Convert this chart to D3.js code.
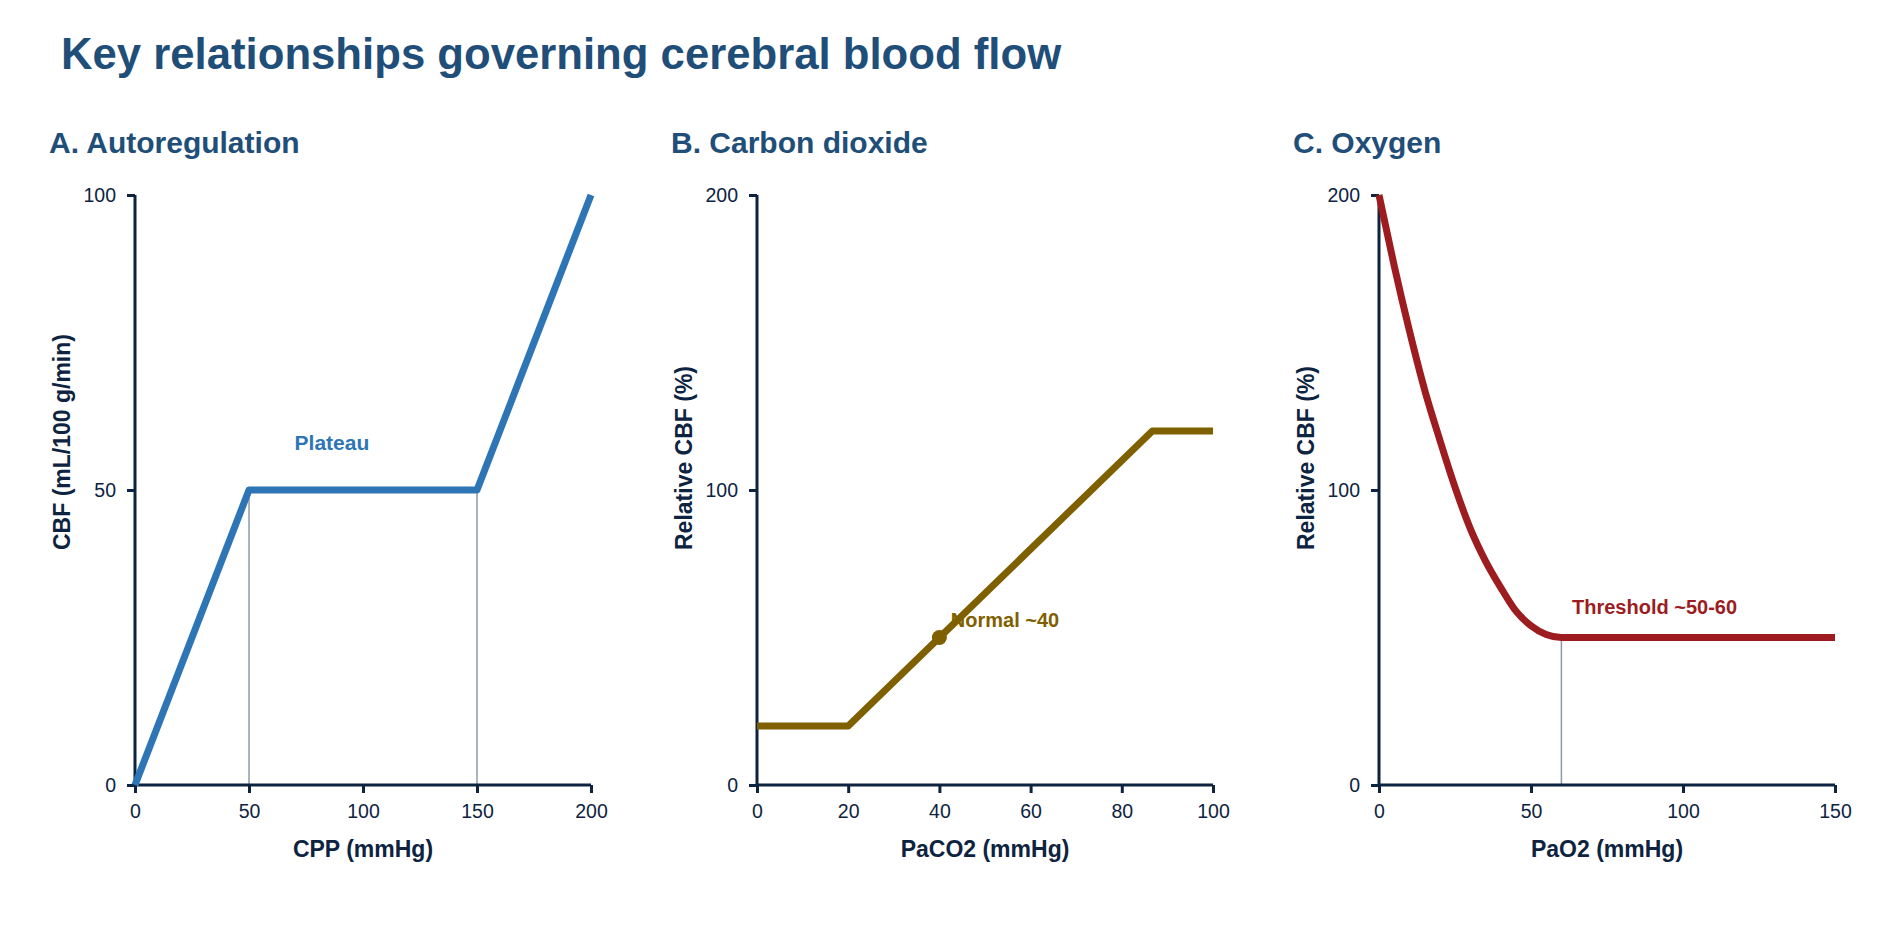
<!DOCTYPE html>
<html>
<head>
<meta charset="utf-8">
<script src="https://cdn.jsdelivr.net/npm/d3@7"></script>
<style>
  html, body { margin: 0; padding: 0; background: #ffffff; }
  svg { display: block; font-family: "Liberation Sans", Arial, sans-serif; }
</style>
</head>
<body>
<svg id="chart" width="1900" height="930"></svg>
<script>
// chart values
const autoregCpp = [0, 50, 150, 200];
const autoregCbf = [0, 50, 50, 100];
const autoregRefX = [50, 150];

const co2Paco2 = [0, 20, 86.7, 100];
const co2Cbf = [20, 20, 120, 120];
const co2Normal = [40, 50];

const o2Pao2 = [0, 5, 10, 15, 20, 25, 30, 35, 40, 45, 50, 55, 60, 150];
const o2Cbf = [200, 176, 154, 134, 117, 101, 87, 76, 67, 59, 54, 51, 50, 50];
const o2RefX = [60];

const ticksAx = [0, 50, 100, 150, 200];
const ticksAy = [0, 50, 100];
const ticksBx = [0, 20, 40, 60, 80, 100];
const ticksBy = [0, 100, 200];
const ticksCx = [0, 50, 100, 150];
const ticksCy = [0, 100, 200];

const titleColor = '#1f4e79';
const axisColor = '#0d2340';
const refColor = '#8e9aab';

const svg = d3.select('#chart');

svg.append('text')
    .attr('x', 61)
    .attr('y', 69)
    .attr('font-size', 43.7)
    .attr('font-weight', 'bold')
    .attr('fill', titleColor)
    .text('Key relationships governing cerebral blood flow');

// shared panel geometry
const plotTop = 195, plotBottom = 785, panelWidth = 456;

function drawPanel(opts) {
    const g = svg.append('g');
    const x = d3.scaleLinear().domain(opts.xDomain).range([opts.left, opts.left + panelWidth]);
    const y = d3.scaleLinear().domain(opts.yDomain).range([plotBottom, plotTop]);

    // subtitle
    g.append('text')
        .attr('x', opts.left - 86)
        .attr('y', 153)
        .attr('font-size', 30)
        .attr('font-weight', 'bold')
        .attr('fill', titleColor)
        .text(opts.title);

    // reference drop lines
    (opts.refs || []).forEach(r => {
        g.append('line')
            .attr('x1', x(r[0])).attr('x2', x(r[0]))
            .attr('y1', y(0)).attr('y2', y(r[1]))
            .attr('stroke', refColor)
            .attr('stroke-width', 1.5);
    });

    // annotation text (sits under the line, like the reference)
    g.append('text')
        .attr('x', x(opts.note[0]))
        .attr('y', y(opts.note[1]))
        .attr('font-size', opts.noteSize)
        .attr('font-weight', 'bold')
        .attr('fill', opts.color)
        .text(opts.note[2]);

    // axes
    const xAxis = g.append('g')
        .attr('transform', 'translate(0,' + plotBottom + ')')
        .call(d3.axisBottom(x).tickValues(opts.xTicks).tickFormat(d3.format('d')).tickSize(8).tickPadding(11));
    const yAxis = g.append('g')
        .attr('transform', 'translate(' + opts.left + ',0)')
        .call(d3.axisLeft(y).tickValues(opts.yTicks).tickFormat(d3.format('d')).tickSize(8).tickPadding(11));
    [xAxis, yAxis].forEach(a => {
        a.select('.domain').attr('stroke', axisColor).attr('stroke-width', 3);
        a.selectAll('.tick line').attr('stroke', axisColor).attr('stroke-width', 3);
        a.selectAll('.tick text')
            .attr('fill', axisColor)
            .attr('font-size', 19.5)
            .attr('font-family', '"Liberation Sans", Arial, sans-serif');
    });
    // drop the outer tick stubs d3 adds to the domain path
    xAxis.select('.domain').attr('d', 'M' + opts.left + ',0H' + (opts.left + panelWidth));
    yAxis.select('.domain').attr('d', 'M0,' + plotTop + 'V' + plotBottom);

    // axis titles
    g.append('text')
        .attr('x', opts.left + panelWidth / 2)
        .attr('y', 857)
        .attr('text-anchor', 'middle')
        .attr('font-size', 23)
        .attr('font-weight', 'bold')
        .attr('fill', axisColor)
        .text(opts.xLabel);
    g.append('text')
        .attr('transform', 'translate(' + (opts.left - 65) + ',550) rotate(-90)')
        .attr('text-anchor', 'start')
        .attr('font-size', 23)
        .attr('font-weight', 'bold')
        .attr('fill', axisColor)
        .text(opts.yLabel);

    // data line
    const line = d3.line()
        .x(d => x(d[0]))
        .y(d => y(d[1]))
        .curve(opts.curve || d3.curveLinear);
    g.append('path')
        .datum(d3.zip(opts.xs, opts.ys))
        .attr('fill', 'none')
        .attr('stroke', opts.color)
        .attr('stroke-width', 7)
        .attr('stroke-linejoin', 'round')
        .attr('d', line);

    if (opts.marker) {
        g.append('circle')
            .attr('cx', x(opts.marker[0]))
            .attr('cy', y(opts.marker[1]))
            .attr('r', 7.5)
            .attr('fill', opts.color);
    }
}

drawPanel({
    left: 135,
    title: 'A. Autoregulation',
    xDomain: [0, 200], yDomain: [0, 100],
    xTicks: ticksAx, yTicks: ticksAy,
    xs: autoregCpp, ys: autoregCbf,
    refs: autoregRefX.map(v => [v, 50]),
    color: '#2e75b6',
    note: [70, 56.7, 'Plateau'], noteSize: 21,
    xLabel: 'CPP (mmHg)',
    yLabel: 'CBF (mL/100 g/min)'
});

drawPanel({
    left: 757,
    title: 'B. Carbon dioxide',
    xDomain: [0, 100], yDomain: [0, 200],
    xTicks: ticksBx, yTicks: ticksBy,
    xs: co2Paco2, ys: co2Cbf,
    color: '#7f6000',
    marker: co2Normal,
    note: [42.5, 53.5, 'Normal ~40'], noteSize: 20,
    xLabel: 'PaCO2 (mmHg)',
    yLabel: 'Relative CBF (%)'
});

drawPanel({
    left: 1379,
    title: 'C. Oxygen',
    xDomain: [0, 150], yDomain: [0, 200],
    xTicks: ticksCx, yTicks: ticksCy,
    xs: o2Pao2, ys: o2Cbf,
    curve: d3.curveMonotoneX,
    refs: o2RefX.map(v => [v, 50]),
    color: '#9c1c1f',
    note: [63.5, 57.8, 'Threshold ~50-60'], noteSize: 20,
    xLabel: 'PaO2 (mmHg)',
    yLabel: 'Relative CBF (%)'
});
</script>
</body>
</html>
